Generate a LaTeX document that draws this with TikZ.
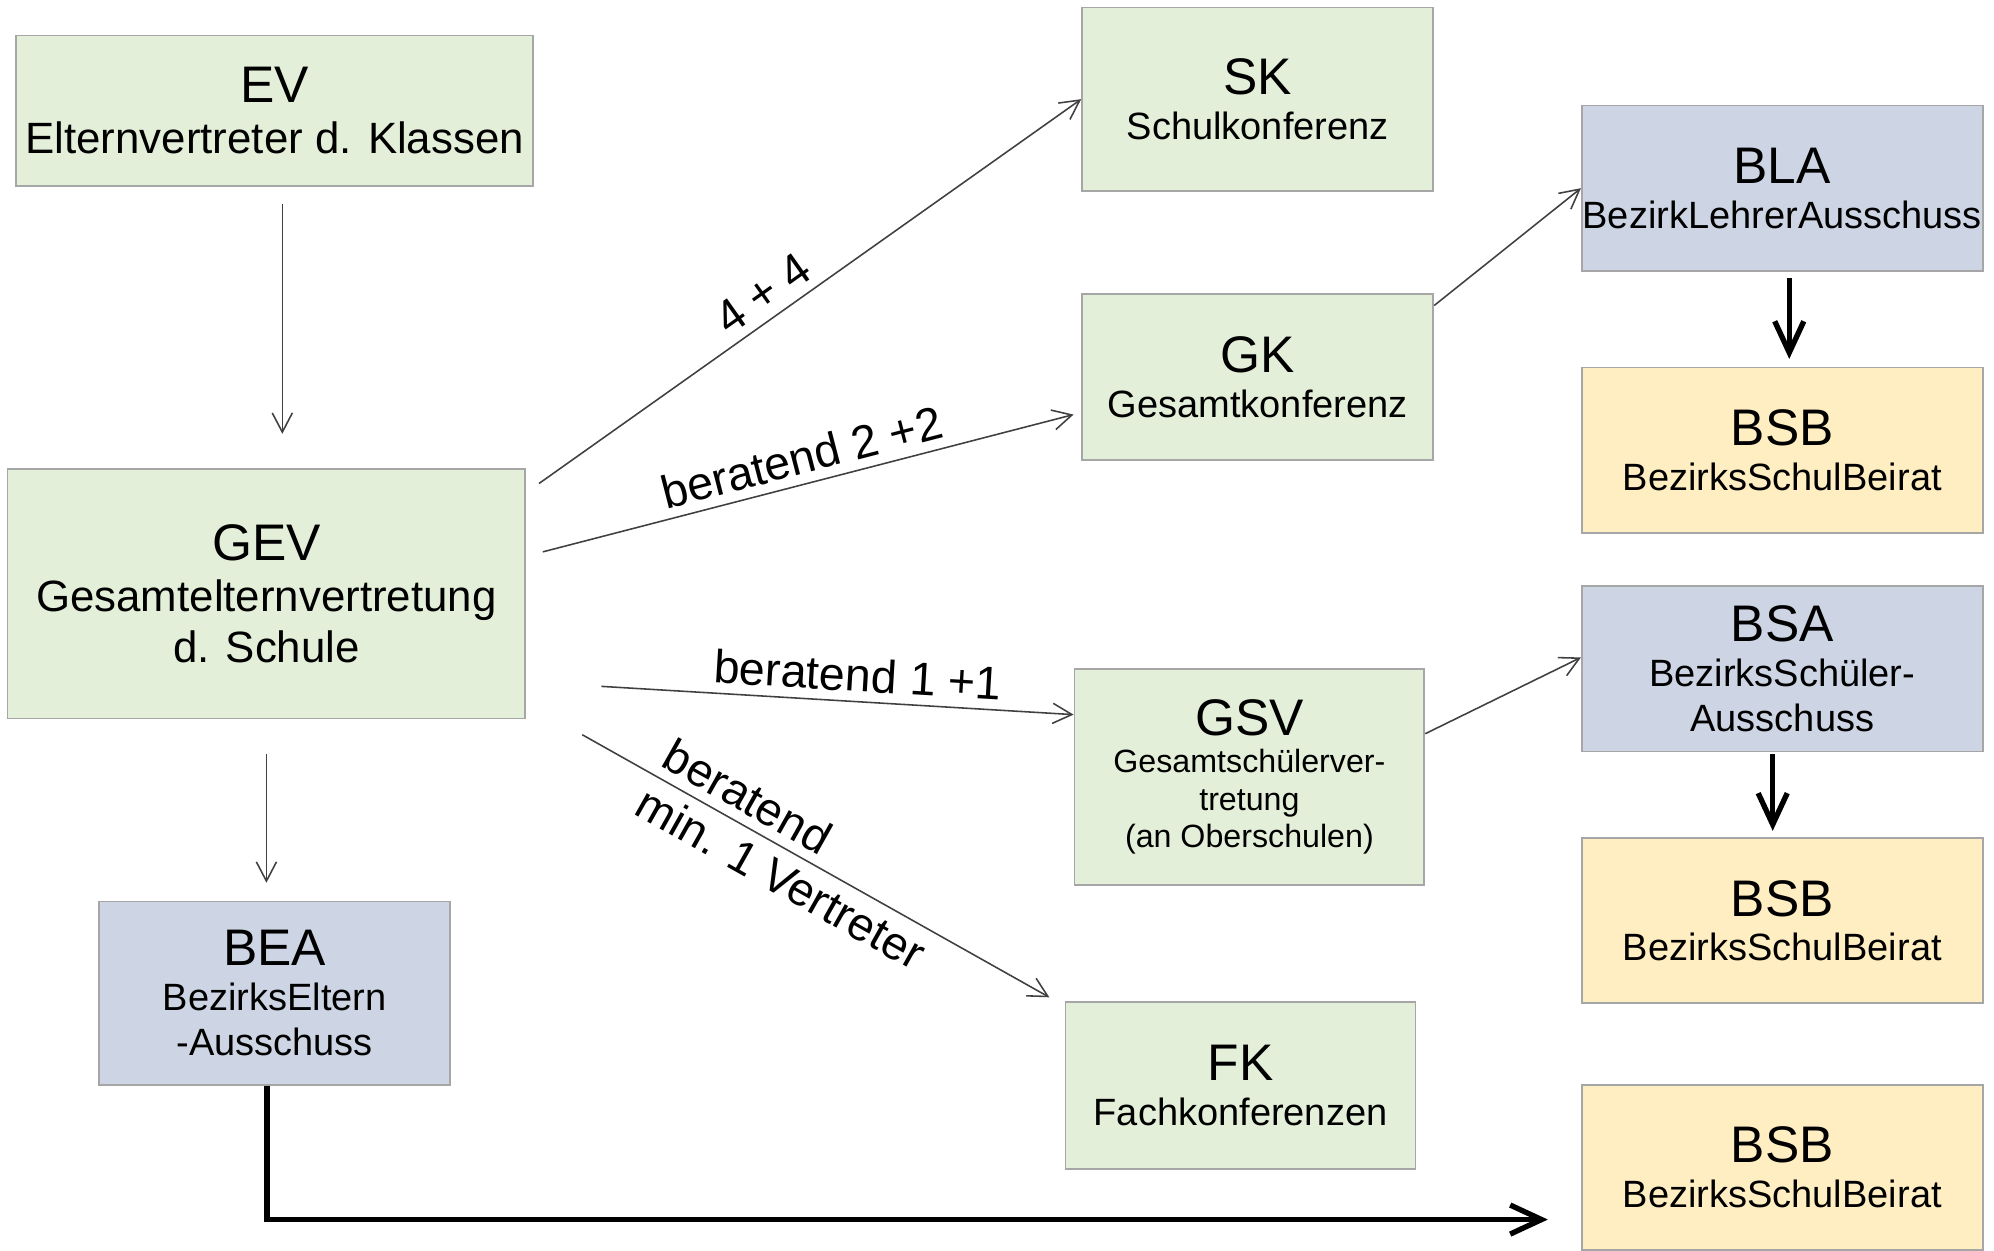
\documentclass[tikz,border=0pt]{standalone}
\usepackage{fontspec}
\setmainfont{Liberation Sans}
\usetikzlibrary{arrows.meta,positioning}
\definecolor{boxgreen}{HTML}{E3EFD9}
\definecolor{boxblue}{HTML}{CDD5E4}
\definecolor{boxyellow}{HTML}{FFEEC2}
\definecolor{boxline}{HTML}{A6A6A6}
\definecolor{arrowgray}{HTML}{404040}
\newcommand{\titlefnt}{\fontsize{11.5}{13.5}\selectfont}
\newcommand{\bigsubfnt}{\fontsize{9.8}{11.4}\selectfont}
\newcommand{\subfnt}{\fontsize{8.5}{10}\selectfont}
\newcommand{\tinysubfnt}{\fontsize{7.2}{8.4}\selectfont}
\newcommand{\labelfnt}{\fontsize{10.4}{12.2}\selectfont}

\begin{document}
\begin{tikzpicture}[x=0.01cm,y=-0.01cm,>={Straight Barb[length=4.3pt,width=4.5pt]},
    thinline/.style={->,arrowgray,line width=0.35pt},
    thickarrow/.style={-{Straight Barb[length=7pt,width=6.5pt]},line width=1.2pt,black},
    lbl/.style={font=\labelfnt,text=black,sloped,align=center,inner sep=2pt}]%
\useasboundingbox (0,0) rectangle (1568,983);
            \begin{scope}
            \tikzstyle{every node}=[draw=boxline,line width=0.4pt,inner sep=0pt,align=center,font=\subfnt] %%
            \node[fill=boxgreen,minimum width=4.06cm,minimum height=1.18cm,font=\bigsubfnt] (ev) at (216,87) {{\titlefnt EV}\\Elternvertreter d. Klassen}; %%
            \node[fill=boxgreen,minimum width=4.07cm,minimum height=1.96cm,font=\bigsubfnt] (gev) at (209.5,467) {{\titlefnt GEV}\\Gesamtelternvertretung\\d. Schule}; %%
            \node[fill=boxblue,minimum width=2.76cm,minimum height=1.44cm] (bea) at (216,781) {{\titlefnt BEA}\\BezirksEltern\\-Ausschuss}; %%
            \node[fill=boxgreen,minimum width=2.76cm,minimum height=1.44cm] (sk) at (989,78) {{\titlefnt SK}\\Schulkonferenz}; %%
            \node[fill=boxgreen,minimum width=2.76cm,minimum height=1.31cm] (gk) at (989,296.5) {{\titlefnt GK}\\Gesamtkonferenz}; %%
            \node[fill=boxgreen,minimum width=2.75cm,minimum height=1.70cm,font=\tinysubfnt] (gsv) at (982.5,611) {{\titlefnt GSV}\\Gesamtschülerver-\\tretung\\(an Oberschulen)}; %%
            \node[fill=boxgreen,minimum width=2.75cm,minimum height=1.31cm] (fk) at (975.5,853.5) {{\titlefnt FK}\\Fachkonferenzen}; %%
            \node[fill=boxblue,minimum width=3.15cm,minimum height=1.30cm] (bla) at (1401.5,148) {{\titlefnt BLA}\\BezirkLehrerAusschuss}; %%
            \node[fill=boxyellow,minimum width=3.15cm,minimum height=1.30cm] (bsb1) at (1401.5,354) {{\titlefnt BSB}\\BezirksSchulBeirat}; %%
            \node[fill=boxblue,minimum width=3.15cm,minimum height=1.30cm] (bsa) at (1401.5,526) {{\titlefnt BSA}\\BezirksSchüler-\\Ausschuss}; %%
            \node[fill=boxyellow,minimum width=3.15cm,minimum height=1.30cm] (bsb2) at (1401.5,724) {{\titlefnt BSB}\\BezirksSchulBeirat}; %%
            \node[fill=boxyellow,minimum width=3.15cm,minimum height=1.30cm] (bsb3) at (1401.5,918) {{\titlefnt BSB}\\BezirksSchulBeirat}; %%
            \end{scope}
            % thin connectors
            \draw[thinline,shorten <=4pt,shorten >=7.7pt] ([xshift=0.06cm]ev.south) -- ([xshift=0.06cm]ev.south |- gev.north); %%
            \draw[thinline,shorten <=7.7pt,shorten >=4pt] (gev.south) -- (gev.south |- bea.north); %%
            \draw[thinline] ([shift={(0.1cm,-0.12cm)}]gev.north east) -- (sk.west) node[lbl,pos=0.44,above]{4 + 4}; %%
            \draw[thinline] ([shift={(0.13cm,0.33cm)}]gev.east) -- ([shift={(-0.06cm,-0.295cm)}]gk.west) node[lbl,midway,above]{beratend 2 +2}; %%
            \draw[thinline] ([shift={(0.59cm,0.26cm)}]gev.south east) -- ([yshift=0.49cm]gsv.west) node[lbl,pos=0.54,above]{beratend 1 +1}; %%
            \draw[thinline] ([shift={(0.44cm,-0.12cm)}]gev.south east) -- ([shift={(-0.12cm,0.03cm)}]fk.north west) node[lbl,align=left,pos=0.455]{beratend\\min. 1 Vertreter}; %%
            \draw[thinline] ([yshift=-0.1cm]gk.north east) -- (bla.west); %%
            \draw[thinline] ([yshift=0.34cm]gsv.east) -- ([yshift=0.09cm]bsa.west); %%
            % thick connectors
            \draw[thickarrow,shorten <=1.4pt,shorten >=1.7pt] ([xshift=0.055cm]bla.south) -- ([xshift=0.055cm]bla.south |- bsb1.north); %%
            \draw[thickarrow,shorten <=0.3pt,shorten >=1.4pt] ([xshift=-0.075cm]bsa.south) -- ([xshift=-0.075cm]bsa.south |- bsb2.north); %%
            \draw[thickarrow,shorten >=7.4pt] ([xshift=-0.06cm]bea.south) |- ([yshift=-0.41cm]bsb3.west); %%
        \end{tikzpicture}
\end{document}
